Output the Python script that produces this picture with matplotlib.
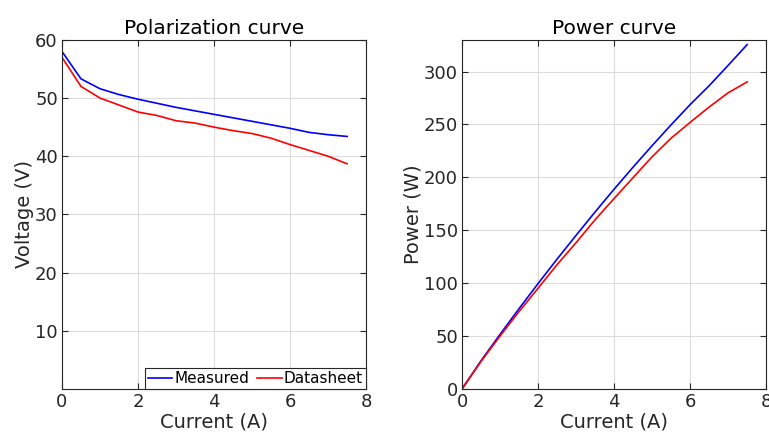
import numpy as np
import matplotlib
matplotlib.use('Agg')
import matplotlib.pyplot as plt

plt.rcParams['font.family'] = ['DejaVu Sans']

# data
current = [0, 0.5, 1, 1.5, 2, 2.5, 3, 3.5, 4, 4.5, 5, 5.5, 6, 6.5, 7, 7.5]
v_measured = [58.0, 53.3, 51.6, 50.6, 49.8, 49.1, 48.4, 47.8, 47.2, 46.6,
              46.0, 45.4, 44.8, 44.1, 43.7, 43.4]
v_datasheet = [57.0, 52.0, 50.0, 48.8, 47.6, 47.0, 46.1, 45.7, 45.0, 44.4,
               43.9, 43.1, 42.0, 41.0, 40.0, 38.7]

p_measured = np.array(current) * np.array(v_measured)
p_datasheet = np.array(current) * np.array(v_datasheet)

txt = '#262626'

fig = plt.figure(figsize=(7.69, 4.43), dpi=100)
ax1 = fig.add_axes([0.0806, 0.122, 0.3955, 0.788])
ax2 = fig.add_axes([0.6008, 0.122, 0.3955, 0.788])


def style(ax):
    ax.grid(True, color='#dcdcdc', linewidth=0.8)
    ax.set_axisbelow(True)
    ax.tick_params(direction='in', top=True, right=True, colors=txt,
                   labelsize=13, length=4, width=0.8, pad=3)
    for s in ax.spines.values():
        s.set_color(txt)
        s.set_linewidth(0.8)


ax1.plot(current, v_measured, color='blue', lw=1.2, label='Measured')
ax1.plot(current, v_datasheet, color='red', lw=1.2, label='Datasheet')
ax1.set_xlim(0, 8)
ax1.set_ylim(0, 60)
ax1.set_xticks([0, 2, 4, 6, 8])
ax1.set_yticks([10, 20, 30, 40, 50, 60])
style(ax1)
ax1.set_title('Polarization curve', fontsize=14.5, color='black', pad=4)
ax1.set_xlabel('Current (A)', fontsize=14, color=txt, labelpad=1)
ax1.set_ylabel('Voltage (V)', fontsize=14, color=txt, labelpad=1)
leg = ax1.legend(loc='lower right', ncol=2, fontsize=11, handlelength=1.6,
                 handletextpad=0.15, columnspacing=0.5, borderpad=0.2,
                 borderaxespad=0, fancybox=False, framealpha=1)
leg.get_frame().set_edgecolor(txt)
leg.get_frame().set_linewidth(0.8)

ax2.plot(current, p_measured, color='blue', lw=1.2)
ax2.plot(current, p_datasheet, color='red', lw=1.2)
ax2.set_xlim(0, 8)
ax2.set_ylim(0, 330)
ax2.set_xticks([0, 2, 4, 6, 8])
ax2.set_yticks([0, 50, 100, 150, 200, 250, 300])
style(ax2)
ax2.set_title('Power curve', fontsize=14.5, color='black', pad=4)
ax2.set_xlabel('Current (A)', fontsize=14, color=txt, labelpad=1)
ax2.set_ylabel('Power (W)', fontsize=14, color=txt, labelpad=1)

fig.savefig('out.png', dpi=100)
